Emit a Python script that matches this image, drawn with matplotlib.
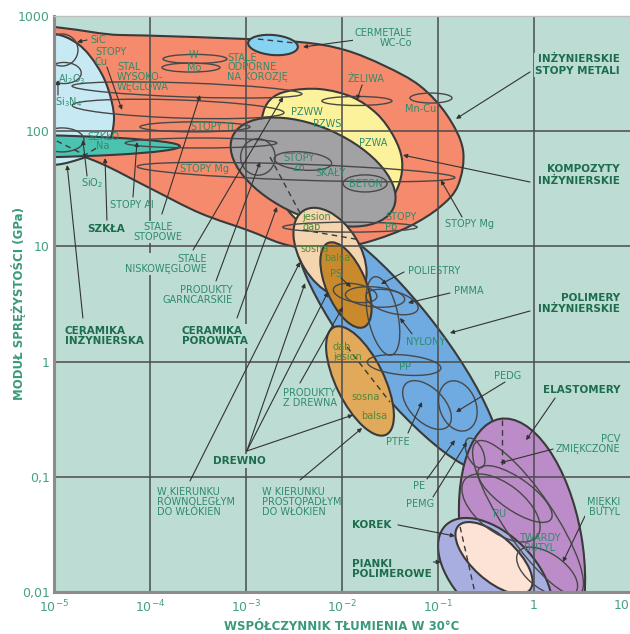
import numpy as np
import matplotlib.pyplot as plt
from matplotlib.path import Path
from matplotlib.patches import PathPatch
from matplotlib.transforms import Affine2D

# oś x: współczynnik tłumienia, oś y: moduł sprężystości (GPa)
x_ticks = [1e-5, 1e-4, 1e-3, 1e-2, 1e-1, 1, 10]
x_tick_labels = ['$10^{-5}$', '$10^{-4}$', '$10^{-3}$', '$10^{-2}$', '$10^{-1}$', '1', '10']
y_ticks = [0.01, 0.1, 1, 10, 100, 1000]
y_tick_labels = ['0,01', '0,1', '1', '10', '100', '1000']

# obszary o nieregularnym kształcie - punkty konturu
metals_x = [3.9e-6, 4.9e-5, 5.4e-4, 3.65e-3, 1.07e-2, 2.8e-2, 6.5e-2, 0.124, 0.182, 0.162, 0.105,
            5.1e-2, 2.2e-2, 9.5e-3, 4.1e-3, 2.26e-3, 1.1e-3, 3.3e-4, 1.0e-4, 3.0e-5, 1.15e-5, 3.9e-6]
metals_y = [690, 684, 644, 594, 507, 368, 247, 138, 69, 34, 22,
            15, 11.4, 9.7, 9.7, 10.7, 13.6, 19.5, 32, 53, 69, 76]

ceramics_x = [4.4e-6, 1.02e-5, 1.66e-5, 2.37e-5, 3.3e-5, 4.0e-5, 4.2e-5, 3.65e-5, 2.37e-5, 1.47e-5, 1.02e-5, 4.4e-6]
ceramics_y = [712, 698, 594, 450, 290, 179, 120, 79, 62, 54, 51, 48]

pzw_x = [1.47e-3, 1.78e-3, 2.74e-3, 5.9e-3, 1.27e-2, 2.32e-2, 3.48e-2, 4.22e-2, 3.93e-2, 2.87e-2,
         1.62e-2, 7.9e-3, 3.65e-3, 2.0e-3, 1.47e-3]
pzw_y = [130, 187, 223, 232, 198, 141, 89, 56, 34.8, 22.4, 16.6, 14.1, 16.2, 30.9, 68.7]

# obszary eliptyczne: środek, półosie (w dekadach), obrót w stopniach
blob_names = ['szkła', 'cermetale', 'ceramika porowata', 'polimery', 'drewno wzdłuż',
              'drewno balsa', 'drewno w poprzek', 'elastomery', 'pianki', 'korek']
blob_xc = [1.05e-6, 1.91e-3, 5.0e-3, 3.83e-2, 7.5e-3, 1.10e-2, 1.54e-2, 0.75, 0.393, 0.383]
blob_yc = [74, 560, 44.2, 1.39, 8.77, 4.62, 0.679, 0.0256, 0.01406, 0.0197]
blob_a = [2.29, 0.26, 0.917, 1.646, 0.52, 0.476, 0.622, 1.333, 0.729, 0.5]
blob_b = [0.125, 0.104, 0.469, 0.4375, 0.31, 0.208, 0.25, 0.625, 0.417, 0.229]
blob_ang = [0, -5, -24, -52, -58, -67, -64, 100, -45, -42]

# elipsy konturowe (grupy materiałów)
ring_xc = [2.94e-4, 2.67e-4, 2.43e-4, 1.96e-4, 2.94e-4, 3.4e-4, 3.32e-3, 1.43e-2, 8.45e-2, 1.21e-2,
           3.92e-3, 1.74e-2, 1.33e-3, 1.21e-5, 1.27e-5, 1.21e-5,
           2.21e-2, 3.32e-2, 2.67e-2, 1.37e-2, 4.43e-2, 7.68e-2, 0.161,
           0.243, 0.634, 0.453, 0.866, 1.37]
ring_yc = [424, 357, 228, 156, 109, 79, 44.2, 183, 194, 14.7,
           55.1, 35.2, 59.7, 507, 320, 84,
           3.64, 3.29, 2.49, 3.94, 0.934, 0.42, 0.412,
           0.161, 0.0709, 0.0536, 0.0439, 0.0149]
ring_a = [0.333, 0.302, 1.198, 1.104, 0.573, 0.79, 1.656, 0.365, 0.219, 0.70,
          0.30, 0.229, 0.18, 0.167, 0.18, 0.23,
          0.31, 0.28, 0.417, 0.23, 0.385, 0.3125, 0.27,
          0.167, 0.458, 0.479, 0.958, 0.365]
ring_b = [0.047, 0.047, 0.073, 0.094, 0.052, 0.052, 0.083, 0.047, 0.052, 0.052,
          0.094, 0.089, 0.19, 0.167, 0.11, 0.125,
          0.104, 0.115, 0.156, 0.094, 0.104, 0.177, 0.19,
          0.083, 0.167, 0.25, 0.26, 0.1875]
ring_ang = [0, 0, -2, -2, 0, 0, -2, 0, 0, 0,
            -5, 0, 0, 0, 0, 0,
            -5, -15, -78, -10, -5, -45, -70,
            -65, -35, -38, -56, -35]

# linie przerywane
dash_x = [[1.78e-3, 3.65e-3], [3.92e-3, 1.54e-2], [1.13e-2, 3.16e-2], [0.464, 0.464],
          [0.17, 0.243], [1.33e-3, 3.09e-3], [1.07e-5, 2.1e-5, 3.0e-5]]
dash_y = [[59.7, 19.5], [13.9, 11.4], [1.34, 0.446], [0.311, 0.122],
          [0.0367, 0.0098], [631, 585], [82.2, 62, 74.4]]

# opisy
small_center = [('SiC', 2.87e-5, 619), ('W', 2.87e-4, 458), ('Mo', 2.87e-4, 353),
                ('ŻELIWA', 1.78e-2, 284), ('Mn-Cu', 6.65e-2, 156), ('PZWW', 4.32e-3, 147),
                ('PZWS', 6.98e-3, 115), ('PZWA', 2.1e-2, 79), ('STOPY Ti', 4.42e-4, 109),
                ('SZKŁO\nNa', 3.24e-5, 81.5), ('STOPY Mg', 3.74e-4, 47), ('STOPY\nZn', 3.56e-3, 53),
                ('SKAŁY', 7.68e-3, 43.4), ('BETON', 1.78e-2, 34.8), ('STOPY Mg', 0.215, 15.6),
                ('SiO$_2$', 2.49e-5, 35.5), ('STOPY Al', 6.49e-5, 22.9),
                ('Al$_2$O$_3$', 1.54e-5, 284), ('Si$_3$N$_4$', 1.40e-5, 179), ('PS', 8.66e-3, 5.76),
                ('POLIESTRY', 9.08e-2, 6.11), ('PMMA', 0.21, 4.1), ('NYLONY', 7.5e-2, 1.48),
                ('PP', 4.53e-2, 0.898), ('PEDG', 0.536, 0.75), ('PTFE', 3.83e-2, 0.2),
                ('PE', 6.34e-2, 0.0832), ('PEMG', 6.49e-2, 0.058), ('PU', 0.443, 0.0475),
                ('TWARDY\nBUTYL', 1.155, 0.0266)]
small_center_boxed = [('STALE\nSTOPOWE', 1.21e-4, 13.3)]
small_left = [('STOPY\nCu', 2.67e-5, 441), ('STAL\nWYSOKO-\nWĘGLOWA', 4.53e-5, 295),
              ('STALE\nODPORNE\nNA KOROZJĘ', 6.34e-4, 360), ('STOPY\nPb', 2.81e-2, 16.3),
              ('W KIERUNKU\nRÓWNOLEGŁYM\nDO WŁÓKIEN', 1.18e-4, 0.0604),
              ('W KIERUNKU\nPROSTOPADŁYM\nDO WŁÓKIEN', 1.47e-3, 0.0604),
              ('PRODUKTY\nZ DREWNA', 2.43e-3, 0.483)]
small_right = [('CERMETALE\nWC-Co', 5.36e-2, 644), ('STALE\nNISKOWĘGLOWE', 3.92e-4, 7.03),
               ('PRODUKTY\nGARNCARSKIE', 7.32e-4, 3.79), ('PCV\nZMIĘKCZONE', 7.87, 0.193),
               ('MIĘKKI\nBUTYL', 7.87, 0.0547)]
bold_right = [('INŻYNIERSKIE\nSTOPY METALI', 7.87, 376), ('KOMPOZYTY\nINŻYNIERSKIE', 7.87, 41.7),
              ('POLIMERY\nINŻYNIERSKIE', 7.87, 3.19), ('ELASTOMERY', 7.87, 0.567)]
bold_left = [('CERAMIKA\nINŻYNIERSKA', 1.30e-5, 1.67), ('CERAMIKA\nPOROWATA', 2.15e-4, 1.67),
             ('SZKŁA', 2.21e-5, 14.2), ('KOREK', 1.27e-2, 0.0382),
             ('PIANKI\nPOLIMEROWE', 1.27e-2, 0.01585), ('DREWNO', 4.53e-4, 0.137)]
wood_labels = [('jesion', 5.5e-3, 18.0), ('dąb', 4.87e-3, 14.7), ('sosna', 5.23e-3, 9.49),
               ('balsa', 8.87e-3, 7.93), ('dąb', 1.0e-2, 1.34), ('jesion', 1.13e-2, 1.10),
               ('sosna', 1.78e-2, 0.493), ('balsa', 2.15e-2, 0.337)]

# strzałki: (x od, y od, x do, y do)
arrows = [(2.21e-5, 619, 1.74e-5, 594), (3.56e-5, 361, 5.11e-5, 153), (1.10e-5, 206, 1.10e-5, 278),
          (2.21e-5, 40.8, 2.0e-5, 84), (3.56e-5, 16.9, 3.4e-5, 58.5), (2.0e-5, 2.39, 1.37e-5, 50.9),
          (6.65e-5, 26.8, 7.32e-5, 80.6), (1.33e-4, 19.1, 3.32e-4, 206), (2.81e-4, 9.3, 2.43e-3, 198),
          (4.87e-4, 5.01, 1.40e-3, 54), (8.06e-4, 2.39, 2.1e-3, 22), (1.96e-2, 644, 3.92e-3, 538),
          (1.62e-2, 252, 1.43e-2, 187), (0.909, 327, 0.154, 128), (0.909, 36.2, 4.32e-2, 62),
          (0.178, 18.0, 0.107, 37.7), (4.43e-2, 6.0, 2.55e-2, 4.72), (0.133, 3.94, 4.87e-2, 3.23),
          (5.36e-2, 1.74, 4.02e-2, 2.39), (0.909, 2.75, 0.133, 1.77), (0.499, 0.665, 0.154, 0.365),
          (1.66, 0.483, 0.826, 0.208), (4.87e-2, 0.24, 6.81e-2, 0.446), (7.68e-2, 0.0957, 0.150, 0.208),
          (8.87e-2, 0.0668, 0.2, 0.2), (1.58, 0.174, 0.443, 0.132), (3.4, 0.0457, 2.0, 0.0182),
          (3.83e-2, 0.0382, 0.150, 0.0306), (3.83e-2, 0.0182, 0.107, 0.0182),
          (3.65e-3, 0.652, 1.02e-2, 2.98), (1.02e-3, 0.1675, 4.12e-3, 4.8),
          (1.02e-3, 0.1675, 7.15e-3, 4.02), (1.02e-3, 0.1675, 1.30e-2, 0.344),
          (2.61e-4, 0.092, 3.65e-3, 7.32), (3.65e-3, 0.0938, 1.62e-2, 0.265),
          (9.77e-3, 5.32, 1.24e-2, 4.44)]

# ---------------- rysowanie ----------------
plt.rcParams['font.family'] = ['DejaVu Sans']
plt.rcParams['mathtext.default'] = 'regular'

K = 1.2  # dekada osi y jest 1.2 raza dłuższa niż dekada osi x

bg = '#bddcd3'
txt_col = '#2f8b6d'
bold_col = '#1c6c4e'
edge = '#3a3a3a'


def smooth_outline(xs, ys):
    # zamknięta gładka krzywa przez punkty (liczona w skali log)
    p = np.column_stack([np.log10(xs), np.log10(ys) * K])
    n = len(p)
    verts = [p[0]]
    codes = [Path.MOVETO]
    for i in range(n):
        p0, p1, p2, p3 = p[i - 1], p[i], p[(i + 1) % n], p[(i + 2) % n]
        verts += [p1 + (p2 - p0) / 6, p2 - (p3 - p1) / 6, p2]
        codes += [Path.CURVE4] * 3
    verts.append(p[0])
    codes.append(Path.CLOSEPOLY)
    v = np.array(verts)
    v[:, 1] /= K
    return Path(10 ** v, codes)


def ellipse_outline(xc, yc, a, b, ang):
    circ = Path.unit_circle()
    tr = Affine2D().scale(a, b).rotate_deg(ang).translate(np.log10(xc), np.log10(yc) * K)
    v = tr.transform(circ.vertices)
    v[:, 1] /= K
    return Path(10 ** v, circ.codes)


fig = plt.figure(figsize=(6.3, 6.34), dpi=100)
ax = fig.add_axes([54 / 630, 42 / 634, 576 / 630, 576 / 634])
ax.set_xscale('log')
ax.set_yscale('log')
ax.set_xlim(1e-5, 10)
ax.set_ylim(0.01, 1000)
ax.set_facecolor(bg)

blob_colors = {'szkła': '#4cc3b0', 'cermetale': '#86d2f1', 'ceramika porowata': '#a2a2a5',
               'polimery': '#6faae0', 'drewno wzdłuż': '#f3d5b0', 'drewno balsa': '#c88a2c',
               'drewno w poprzek': '#e1a95a', 'elastomery': '#bb8cc8', 'pianki': '#a8afe0',
               'korek': '#fde3d6'}
blobs = {n: ellipse_outline(blob_xc[i], blob_yc[i], blob_a[i], blob_b[i], blob_ang[i])
         for i, n in enumerate(blob_names)}

layers = [(smooth_outline(metals_x, metals_y), '#f68a6c'),
          (smooth_outline(ceramics_x, ceramics_y), '#c7e9f3'),
          (blobs['szkła'], blob_colors['szkła']),
          (blobs['cermetale'], blob_colors['cermetale']),
          (smooth_outline(pzw_x, pzw_y), '#fdf29c')]
for n in blob_names[2:]:
    layers.append((blobs[n], blob_colors[n]))

for i, (path, col) in enumerate(layers):
    ax.add_patch(PathPatch(path, fc=col, ec=edge, lw=1.5, zorder=1 + i * 0.01))

# siatka
for v in x_ticks[1:-1]:
    ax.axvline(v, color='#4b4b4b', lw=1.1, zorder=2)
for v in y_ticks[1:-1]:
    ax.axhline(v, color='#4b4b4b', lw=1.1, zorder=2)

for i in range(len(ring_xc)):
    path = ellipse_outline(ring_xc[i], ring_yc[i], ring_a[i], ring_b[i], ring_ang[i])
    ax.add_patch(PathPatch(path, fc='none', ec='#484848', lw=1.0, zorder=2.5))

for xs, ys in zip(dash_x, dash_y):
    ax.plot(xs, ys, color='#3a3a3a', lw=1.0, ls=(0, (4, 3)), zorder=2.6)

for x0, y0, x1, y1 in arrows:
    ax.annotate('', xy=(x1, y1), xytext=(x0, y0),
                arrowprops=dict(arrowstyle='-|>', color='#333333', lw=0.8,
                                mutation_scale=6, shrinkA=0, shrinkB=0), zorder=3)

box = dict(boxstyle='square,pad=0.15', fc=bg, ec='none')
for t, x, y in small_center:
    ax.text(x, y, t, fontsize=7, color=txt_col, ha='center', va='center', linespacing=0.95, zorder=4)
for t, x, y in small_center_boxed:
    ax.text(x, y, t, fontsize=7, color=txt_col, ha='center', va='center', linespacing=0.95,
            bbox=box, zorder=4)
for t, x, y in small_left:
    ax.text(x, y, t, fontsize=7, color=txt_col, ha='left', va='center', linespacing=0.95, zorder=4)
for t, x, y in small_right:
    ax.text(x, y, t, fontsize=7, color=txt_col, ha='right', va='center', multialignment='right',
            linespacing=0.95, bbox=box, zorder=4)
for t, x, y in bold_right:
    ax.text(x, y, t, fontsize=7.5, color=bold_col, fontweight='bold', ha='right', va='center',
            multialignment='right', linespacing=1.15, bbox=box, zorder=4)
for t, x, y in bold_left:
    ax.text(x, y, t, fontsize=7.5, color=bold_col, fontweight='bold', ha='left', va='center',
            linespacing=1.1, bbox=box, zorder=4)
for t, x, y in wood_labels:
    ax.text(x, y, t, fontsize=7, color='#4f8a3a', ha='center', va='center', zorder=4)

ax.set_xticks(x_ticks, x_tick_labels)
ax.set_yticks(y_ticks, y_tick_labels)
ax.minorticks_off()
ax.tick_params(axis='both', length=0, labelsize=9, labelcolor='#45a083')
ax.tick_params(axis='x', pad=5)
ax.tick_params(axis='y', pad=3)
# ostatni opis osi x przy samej krawędzi - dosunięty do prawej
ax.get_xticklabels()[-1].set_horizontalalignment('right')

ax.set_xlabel('WSPÓŁCZYNNIK TŁUMIENIA W 30°C', fontsize=8.5, fontweight='bold', color='#3a9a7c')
ax.set_ylabel('MODUŁ SPRĘŻYSTOŚCI (GPa)', fontsize=8.5, fontweight='bold', color='#3a9a7c')
ax.xaxis.set_label_coords(0.5, -0.049)
ax.yaxis.set_label_coords(-0.048, 0.5)

for s in ['left', 'bottom']:
    ax.spines[s].set_color('#8c8c8c')
    ax.spines[s].set_linewidth(2.2)
ax.spines['top'].set_color('#c0c0c0')
ax.spines['top'].set_linewidth(1.0)
ax.spines['right'].set_visible(False)

plt.savefig('out.png', dpi=100)
